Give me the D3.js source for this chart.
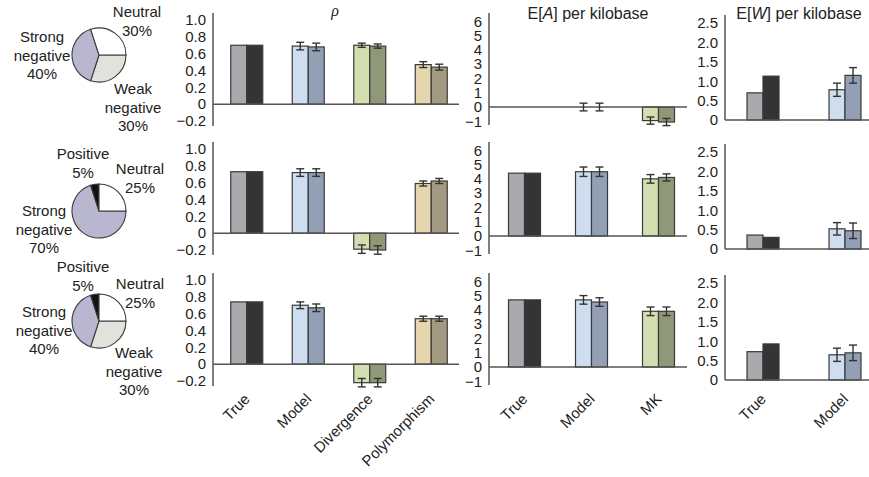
<!DOCTYPE html>
<html>
<head>
<meta charset="utf-8">
<script src="https://cdn.jsdelivr.net/npm/d3@7"></script>
<style>
body { margin: 0; background: #fff; }
svg { display: block; font-family: "Liberation Sans", Arial, sans-serif; }
</style>
</head>
<body>
<svg width="869" height="477"></svg>
<script>
// pie slices, same order in every row
var pieNames = ["Weak negative", "Strong negative", "Positive", "Neutral"];
var pieShares = [
    [30, 40, 0, 30],
    [0, 70, 5, 25],
    [30, 40, 5, 25]
];

// rho panel
var rhoCats = ["True", "Model", "Divergence", "Polymorphism"];
var rhoValues = [
    [[0.70, 0.70], [0.69, 0.68], [0.70, 0.69], [0.47, 0.44]],
    [[0.73, 0.73], [0.72, 0.72], [-0.19, -0.20], [0.59, 0.62]],
    [[0.74, 0.74], [0.70, 0.67], [-0.22, -0.22], [0.54, 0.54]]
];
var rhoErrors = [
    [[0, 0], [0.045, 0.045], [0.025, 0.025], [0.035, 0.035]],
    [[0, 0], [0.045, 0.045], [0.05, 0.05], [0.03, 0.03]],
    [[0, 0], [0.04, 0.045], [0.05, 0.05], [0.03, 0.03]]
];
var rhoTicks = [-0.2, 0, 0.2, 0.4, 0.6, 0.8, 1.0];

// E[A] panel
var eaCats = ["True", "Model", "MK"];
var eaValues = [
    [[0, 0], [0, 0], [-0.95, -1.05]],
    [[4.4, 4.4], [4.5, 4.5], [4.0, 4.1]],
    [[4.7, 4.7], [4.7, 4.55], [3.9, 3.9]]
];
var eaErrors = [
    [[0, 0], [0.27, 0.27], [0.25, 0.25]],
    [[0, 0], [0.33, 0.33], [0.3, 0.25]],
    [[0, 0], [0.3, 0.3], [0.3, 0.3]]
];
var eaTicks = [-1, 0, 1, 2, 3, 4, 5, 6];

// E[W] panel
var ewCats = ["True", "Model"];
var ewValues = [
    [[0.70, 1.13], [0.78, 1.15]],
    [[0.36, 0.30], [0.52, 0.47]],
    [[0.73, 0.93], [0.65, 0.70]]
];
var ewErrors = [
    [[0, 0], [0.17, 0.2]],
    [[0, 0], [0.16, 0.2]],
    [[0, 0], [0.17, 0.2]]
];
var ewTicks = [0, 0.5, 1.0, 1.5, 2.0, 2.5];

var rowTops = [0, 129, 260];

var pairColors = [
    ["#a9a9ae", "#343434"],
    ["#cedef0", "#939fb4"],
    ["#d3dfb1", "#8f9877"],
    ["#e6d6ae", "#a49a81"]
];
var pieColors = d3.scaleOrdinal()
    .domain(pieNames)
    .range(["#e2e2dc", "#b9b6cf", "#111111", "#ffffff"]);

var svg = d3.select("svg");

// ---- pies ----
var pieCenters = [[99, 55], [99, 211], [99, 321]];
// label spots (centre x, centre y of first line) per slice name
var pieLabelPos = [
    {"Neutral": [137, 12], "Strong negative": [42, 37], "Weak negative": [133, 89]},
    {"Positive": [83, 154], "Neutral": [140, 169], "Strong negative": [44, 211]},
    {"Positive": [83, 267], "Neutral": [140, 284], "Strong negative": [44, 312], "Weak negative": [134, 353]}
];

var pie = d3.pie()
    .sort(null)
    .value(d => d)
    .startAngle(Math.PI / 2)
    .endAngle(Math.PI / 2 + 2 * Math.PI);
var arc = d3.arc().innerRadius(0).outerRadius(27);

pieShares.forEach(function(shares, r) {
    var g = svg.append("g")
        .attr("transform", "translate(" + pieCenters[r][0] + "," + pieCenters[r][1] + ")");
    g.selectAll("path")
        .data(pie(shares).filter(d => d.value > 0))
        .enter()
        .append("path")
            .attr("d", arc)
            .attr("fill", d => pieColors(pieNames[d.index]))
            .attr("stroke", "#3a3a3a")
            .attr("stroke-width", 1.1);

    shares.forEach(function(s, i) {
        if (s === 0) return;
        var pos = pieLabelPos[r][pieNames[i]];
        var lines = pieNames[i].split(" ").concat([s + "%"]);
        var t = svg.append("text")
            .attr("text-anchor", "middle")
            .attr("font-size", 15)
            .attr("fill", "#222");
        lines.forEach(function(l, k) {
            t.append("tspan")
                .attr("x", pos[0])
                .attr("y", pos[1] + 5 + k * 18.5)
                .text(l);
        });
    });
});

// ---- bar panels ----
var panels = [
    {cats: rhoCats, values: rhoValues, errors: rhoErrors, ticks: rhoTicks,
     fmt: d => d === 0 ? "0" : d3.format(".1f")(d),
     domain: [-0.2, 1.0], range: [121, 20], axisX: 213, axisY: [13, 126],
     xRange: [216, 462], zeroEnd: 459},
    {cats: eaCats, values: eaValues, errors: eaErrors, ticks: eaTicks,
     fmt: d3.format("d"),
     domain: [-1, 6], range: [121.3, 21.3], axisX: 489, axisY: [13, 125],
     xRange: [491, 692], zeroEnd: 687},
    {cats: ewCats, values: ewValues, errors: ewErrors, ticks: ewTicks,
     fmt: d => d === 0 ? "0" : d3.format(".1f")(d),
     domain: [0, 2.5], range: [120, 23], axisX: 725, axisY: [15, 120],
     xRange: [722, 886], zeroEnd: 869}
];

var inner = d3.scaleBand().domain([0, 1]).range([-16, 16]);

panels.forEach(function(p, pi) {
    var x = d3.scaleBand().domain(p.cats).range(p.xRange);
    var y = d3.scaleLinear().domain(p.domain).range(p.range);

    rowTops.forEach(function(top, r) {
        var g = svg.append("g").attr("transform", "translate(0," + top + ")");

        // y axis
        g.append("g")
            .attr("transform", "translate(" + p.axisX + ",0)")
            .call(d3.axisLeft(y).tickValues(p.ticks).tickFormat(p.fmt).tickSize(0).tickPadding(7))
            .call(a => a.select(".domain").remove())
            .selectAll("text")
                .attr("font-size", 15)
                .attr("font-family", "Liberation Sans, Arial, sans-serif")
                .attr("fill", "#222");
        g.append("line")
            .attr("x1", p.axisX).attr("x2", p.axisX)
            .attr("y1", p.axisY[0]).attr("y2", p.axisY[1])
            .attr("stroke", "#555").attr("stroke-width", 1.5);

        // bars
        var rows = [];
        p.cats.forEach(function(c, ci) {
            [0, 1].forEach(function(k) {
                rows.push({cat: c, ci: ci, k: k, v: p.values[r][ci][k], e: p.errors[r][ci][k]});
            });
        });
        g.selectAll(".bar")
            .data(rows.filter(d => d.v !== 0))
            .enter()
            .append("rect")
                .attr("class", "bar")
                .attr("x", d => x(d.cat) + x.bandwidth() / 2 + inner(d.k))
                .attr("width", inner.bandwidth())
                .attr("y", d => Math.min(y(d.v), y(0)))
                .attr("height", d => Math.abs(y(d.v) - y(0)))
                .attr("fill", d => pairColors[d.ci][d.k])
                .attr("stroke", "#3a3a3a")
                .attr("stroke-width", 1.2);

        // zero line
        g.append("line")
            .attr("x1", p.axisX).attr("x2", p.zeroEnd)
            .attr("y1", y(0)).attr("y2", y(0))
            .attr("stroke", "#555").attr("stroke-width", 1.5);

        // error bars
        var eb = g.selectAll(".err")
            .data(rows.filter(d => d.e > 0))
            .enter()
            .append("g")
                .attr("class", "err")
                .attr("transform", d => "translate(" + (x(d.cat) + x.bandwidth() / 2 + inner(d.k) + inner.bandwidth() / 2) + ",0)");
        eb.append("line")
            .attr("y1", d => y(d.v - d.e)).attr("y2", d => y(d.v + d.e))
            .attr("stroke", "#333").attr("stroke-width", 1.4);
        eb.append("line")
            .attr("x1", -4).attr("x2", 4)
            .attr("y1", d => y(d.v - d.e)).attr("y2", d => y(d.v - d.e))
            .attr("stroke", "#333").attr("stroke-width", 1.4);
        eb.append("line")
            .attr("x1", -4).attr("x2", 4)
            .attr("y1", d => y(d.v + d.e)).attr("y2", d => y(d.v + d.e))
            .attr("stroke", "#333").attr("stroke-width", 1.4);

        // category labels under the last row
        if (r === rowTops.length - 1) {
            g.selectAll(".cat")
                .data(p.cats)
                .enter()
                .append("text")
                    .attr("class", "cat")
                    .attr("text-anchor", "end")
                    .attr("font-size", 15)
                    .attr("fill", "#222")
                    .attr("transform", d => "translate(" + (x(d) + x.bandwidth() / 2 + 4) + "," + (140 - top + 260) + ") rotate(-45)")
                    .text(d => d);
        }
    });
});

// titles
var t1 = svg.append("text")
    .attr("x", 335).attr("y", 16)
    .attr("text-anchor", "middle")
    .attr("font-size", 16)
    .attr("font-family", "Liberation Serif, serif")
    .attr("font-style", "italic")
    .attr("fill", "#222")
    .text("ρ");

function titleWithItalic(cx, letter) {
    var t = svg.append("text")
        .attr("x", cx).attr("y", 19)
        .attr("text-anchor", "middle")
        .attr("font-size", 16)
        .attr("fill", "#222");
    t.append("tspan").text("E[");
    t.append("tspan").attr("font-style", "italic").text(letter);
    t.append("tspan").text("] per kilobase");
}
titleWithItalic(588, "A");
titleWithItalic(799, "W");
</script>
</body>
</html>
